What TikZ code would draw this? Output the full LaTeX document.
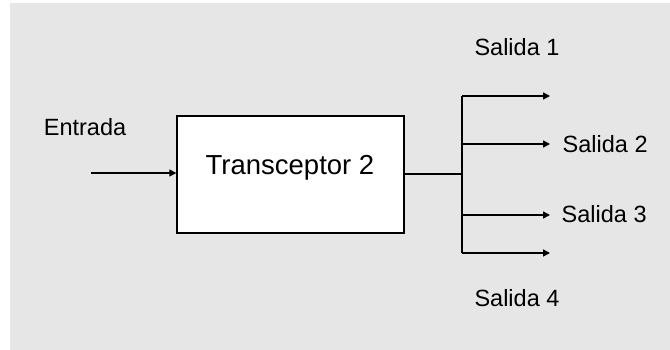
\documentclass[tikz,border=0pt]{standalone}
\usepackage{fontspec}
\setmainfont{Liberation Sans}
\usetikzlibrary{arrows.meta, positioning}
\definecolor{bgGray}{HTML}{E6E6E6}

\begin{document}
\begin{tikzpicture}[x=1pt, y=-1pt,
      >={Triangle[length=7pt, width=7pt]}, line width=1.4pt,
      blk/.style={draw, fill=white, minimum width=227pt, minimum height=117pt,
                  inner sep=0pt, line width=1.4pt},
      lbl/.style={inner sep=0pt, font=\fontsize{23.5}{26}\selectfont}]
    \useasboundingbox (0,0) rectangle (670,350);
    \fill[bgGray] (10,3) rectangle (670,350);
    % block and input
    \node[blk] (tx) at (290.5,174.5) {};
    \node[inner sep=0pt, font=\fontsize{27.5}{30}\selectfont] (txt) at (290,168) {Transceptor 2};
    \node[lbl] (ent) at (85,127) {Entrada};
    \coordinate (in) at (91,173);
    \draw[->] (in) -- (in -| tx.west);
    % branch
    \coordinate (br) at (462,174);
    \coordinate (o1) at (550,96);
    \coordinate (o2) at (550,144);
    \coordinate (o3) at (550,215);
    \coordinate (o4) at (550,253);
    \draw (tx.east |- br) -- (br);
    \draw (br |- o1) -- (br |- o4);
    \foreach \i in {1,...,4}
      \draw[->] (br |- o\i) -- (o\i);
    % outputs
    \node[lbl] (s1) at (517,47) {Salida 1};
    \node[lbl, anchor=west] (s2) at (562,144) {Salida 2};
    \node[lbl, anchor=west] (s3) at (561,214) {Salida 3};
    \node[lbl] (s4) at (517,298) {Salida 4};
  \end{tikzpicture}
\end{document}
